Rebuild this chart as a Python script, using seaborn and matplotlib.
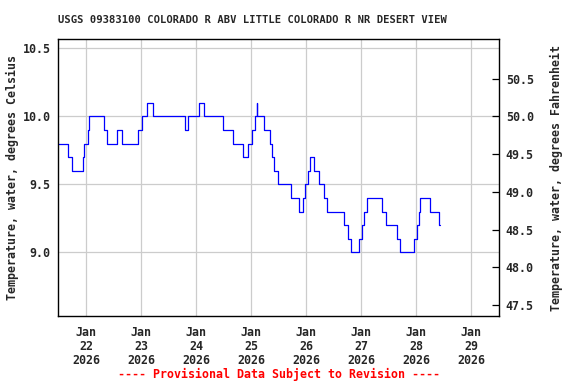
import matplotlib
matplotlib.use("Agg")
import matplotlib.pyplot as plt
import matplotlib.dates as mdates
import seaborn as sns
import pandas as pd
import numpy as np

title = "USGS 09383100 COLORADO R ABV LITTLE COLORADO R NR DESERT VIEW"
ylabel_left = "Temperature, water, degrees Celsius"
ylabel_right = "Temperature, water, degrees Fahrenheit"
footer = "---- Provisional Data Subject to Revision ----"

times = [
    "2026-01-21 12:00", "2026-01-21 16:15", "2026-01-21 18:00", "2026-01-21 22:30",
    "2026-01-21 23:15", "2026-01-22 00:45", "2026-01-22 01:30", "2026-01-22 07:45",
    "2026-01-22 09:15", "2026-01-22 13:30", "2026-01-22 15:30", "2026-01-22 22:30",
    "2026-01-23 00:30", "2026-01-23 02:30", "2026-01-23 05:15", "2026-01-23 19:15",
    "2026-01-23 20:30", "2026-01-24 01:15", "2026-01-24 03:30", "2026-01-24 12:00",
    "2026-01-24 16:15", "2026-01-24 20:30", "2026-01-24 22:30", "2026-01-25 00:15",
    "2026-01-25 01:45", "2026-01-25 02:30", "2026-01-25 02:45", "2026-01-25 05:45",
    "2026-01-25 08:15", "2026-01-25 09:15", "2026-01-25 10:00", "2026-01-25 12:00",
    "2026-01-25 17:15", "2026-01-25 21:00", "2026-01-25 22:45", "2026-01-25 23:45",
    "2026-01-26 01:00", "2026-01-26 01:45", "2026-01-26 03:30", "2026-01-26 05:45",
    "2026-01-26 08:00", "2026-01-26 09:15", "2026-01-26 16:45", "2026-01-26 18:15",
    "2026-01-26 19:30", "2026-01-26 23:00", "2026-01-27 00:15", "2026-01-27 01:30",
    "2026-01-27 02:30", "2026-01-27 09:00", "2026-01-27 11:00", "2026-01-27 15:45",
    "2026-01-27 17:00", "2026-01-27 23:00", "2026-01-28 00:30", "2026-01-28 01:15",
    "2026-01-28 01:45", "2026-01-28 06:00", "2026-01-28 10:15", "2026-01-28 10:30",
]
temps_c = [
    9.8, 9.7, 9.6, 9.7,
    9.8, 9.9, 10.0, 9.9,
    9.8, 9.9, 9.8, 9.9,
    10.0, 10.1, 10.0, 9.9,
    10.0, 10.1, 10.0, 9.9,
    9.8, 9.7, 9.8, 9.9,
    10.0, 10.1, 10.0, 9.9,
    9.8, 9.7, 9.6, 9.5,
    9.4, 9.3, 9.4, 9.5,
    9.6, 9.7, 9.6, 9.5,
    9.4, 9.3, 9.2, 9.1,
    9.0, 9.1, 9.2, 9.3,
    9.4, 9.3, 9.2, 9.1,
    9.0, 9.1, 9.2, 9.3,
    9.4, 9.3, 9.2, 9.2,
]

tick_days = ["2026-01-22", "2026-01-23", "2026-01-24", "2026-01-25",
             "2026-01-26", "2026-01-27", "2026-01-28", "2026-01-29"]
tick_labels = ["Jan\n22\n2026", "Jan\n23\n2026", "Jan\n24\n2026", "Jan\n25\n2026",
               "Jan\n26\n2026", "Jan\n27\n2026", "Jan\n28\n2026", "Jan\n29\n2026"]
yticks_c = [9.0, 9.5, 10.0, 10.5]
yticks_f = [47.5, 48.0, 48.5, 49.0, 49.5, 50.0, 50.5]

sns.set_style("white")
plt.rcParams["font.family"] = ["DejaVu Sans Mono"]
plt.rcParams["font.weight"] = "bold"

df = pd.DataFrame({"time": pd.to_datetime(times), "temp": temps_c})

fig = plt.figure(figsize=(5.76, 3.84), dpi=100)
ax = fig.add_axes([58.3 / 576, 1 - 316 / 384, (499.3 - 58.3) / 576, (316 - 39.3) / 384])

sns.lineplot(data=df, x="time", y="temp", ax=ax, color="#0000ff", linewidth=0.9,
             drawstyle="steps-post", estimator=None, sort=False)

base = mdates.date2num(pd.Timestamp("2026-01-22"))
ax.set_xlim(base - 0.5036, base + 7.515)
ax.set_ylim(8.532, 10.566)

ax.set_xticks([mdates.date2num(pd.Timestamp(d)) for d in tick_days])
ax.set_xticklabels(tick_labels, fontsize=8.4, fontweight="bold", linespacing=1.1)
ax.set_yticks(yticks_c)
ax.set_yticklabels([f"{v:.1f}" for v in yticks_c], fontsize=8.4, fontweight="bold")
ax.tick_params(axis="x", length=0, pad=7)
ax.tick_params(axis="y", length=0, pad=5.5)
ax.grid(True, color="#cccccc", linewidth=0.9)
ax.set_axisbelow(True)
for s in ax.spines.values():
    s.set_color("black")
    s.set_linewidth(1.0)
ax.set_xlabel("")
ax.set_ylabel("")

ax2 = ax.twinx()
lo, hi = ax.get_ylim()
ax2.set_ylim(lo * 1.8 + 32, hi * 1.8 + 32)
ax2.set_yticks(yticks_f)
ax2.set_yticklabels([f"{v:.1f}" for v in yticks_f], fontsize=8.4, fontweight="bold")
ax2.tick_params(axis="y", direction="in", length=5, width=0.9, pad=4.6, color="black")
for s in ax2.spines.values():
    s.set_visible(False)
ax2.grid(False)

fig.text(252.5 / 576, 1 - 20 / 384, title, ha="center", va="center",
         fontsize=7.6, fontweight="bold")
fig.text(12.5 / 576, 1 - 178 / 384, ylabel_left, rotation=90, ha="center", va="center",
         fontsize=8.4, fontweight="bold")
fig.text(556 / 576, 1 - 178 / 384, ylabel_right, rotation=90, ha="center", va="center",
         fontsize=8.4, fontweight="bold")
fig.text(278.5 / 576, 1 - 374.5 / 384, footer, ha="center", va="center",
         fontsize=8.4, fontweight="bold", color="#ff0000")

fig.savefig("out.png", dpi=100)
